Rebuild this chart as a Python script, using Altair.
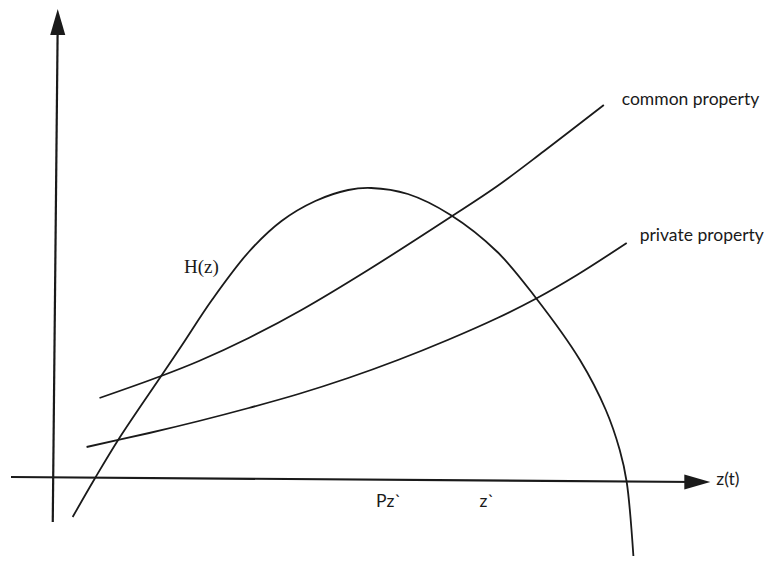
import altair as alt
import pandas as pd

# ---- data (z along horizontal axis, h along vertical axis) ----
h_z = [1.9, 4.1, 6.6, 10.8, 12.9, 15.9, 19.6, 22.9, 26.3, 29.6, 31.9,
       35.6, 39.9, 44.6, 48.4, 52.9, 55.5, 56.9, 57.6, 58.3]
h_val = [-3.7, 0.1, 4.2, 10.4, 13.5, 18.0, 22.8, 25.9, 27.9, 29.0, 29.2,
         28.6, 26.5, 22.8, 18.3, 12.0, 7.0, 3.0, -0.2, -8.0]

common_z = [4.6, 10.8, 14.6, 19.6, 24.9, 31.6, 39.9, 44.6, 49.3, 55.3]
common_val = [8.2, 10.4, 11.9, 14.2, 17.0, 21.0, 26.3, 29.4, 32.9, 37.5]

private_z = [3.3, 9.6, 14.6, 19.6, 24.6, 29.6, 34.6, 39.6, 44.6, 48.6, 52.6, 57.6]
private_val = [3.3, 4.7, 5.9, 7.2, 8.6, 10.2, 12.0, 14.0, 16.2, 18.2, 20.5, 23.7]

# axis lines (endpoints) and arrowheads
vaxis_z = [-0.1, 0.4]
vaxis_h = [-4.2, 46.0]
haxis_z = [-4.3, 64.6]
haxis_h = [0.3, -0.2]
varrow = (0.4, 45.8)
harrow = (64.7, -0.2)

label_text = ["common property", "private property", "z(t)", "Pz`", "z`"]
label_z = [57.1, 58.9, 66.6, 32.4, 42.8]
label_h = [38.0, 24.4, 0.0, -2.2, -2.2]

hz_label = "H(z)"
hz_pos = (13.1, 21.3)

Z_DOMAIN = [-4.6, 71.0]
H_DOMAIN = [-7.6, 47.2]

xs = alt.Scale(domain=Z_DOMAIN, nice=False, zero=False)
ys = alt.Scale(domain=H_DOMAIN, nice=False, zero=False)

INK = "#1a1a1a"


def curve(zs, hs, interp="catmull-rom", width=1.8):
    df = pd.DataFrame({"z": zs, "h": hs, "o": range(len(zs))})
    return alt.Chart(df).mark_line(
        color=INK, strokeWidth=width, interpolate=interp, clip=True
    ).encode(
        x=alt.X("z:Q", scale=xs, axis=None),
        y=alt.Y("h:Q", scale=ys, axis=None),
        order="o:Q",
    )


h_curve = curve(h_z, h_val)
common_curve = curve(common_z, common_val)
private_curve = curve(private_z, private_val)
v_axis = curve(vaxis_z, vaxis_h, interp="linear", width=2.2)
h_axis = curve(haxis_z, haxis_h, interp="linear", width=2.2)

arrow_up = alt.Chart(pd.DataFrame({"z": [varrow[0]], "h": [varrow[1]]})).mark_point(
    shape="M0,-1L0.58,1L-0.58,1Z", filled=True, color=INK, opacity=1, size=676, strokeWidth=0
).encode(x=alt.X("z:Q", scale=xs, axis=None), y=alt.Y("h:Q", scale=ys, axis=None))

arrow_right = alt.Chart(pd.DataFrame({"z": [harrow[0]], "h": [harrow[1]]})).mark_point(
    shape="M1,0L-1,-0.58L-1,0.58Z", filled=True, color=INK, opacity=1, size=676, strokeWidth=0
).encode(x=alt.X("z:Q", scale=xs, axis=None), y=alt.Y("h:Q", scale=ys, axis=None))

labels = alt.Chart(pd.DataFrame({"t": label_text, "z": label_z, "h": label_h})).mark_text(
    align="left", baseline="middle", font="Lato", fontSize=17.5, color=INK
).encode(
    x=alt.X("z:Q", scale=xs, axis=None),
    y=alt.Y("h:Q", scale=ys, axis=None),
    text="t:N",
)

hz_text = alt.Chart(pd.DataFrame({"t": [hz_label], "z": [hz_pos[0]], "h": [hz_pos[1]]})).mark_text(
    align="left", baseline="middle", font="Liberation Serif", fontSize=19, color=INK
).encode(
    x=alt.X("z:Q", scale=xs, axis=None),
    y=alt.Y("h:Q", scale=ys, axis=None),
    text="t:N",
)

chart = alt.layer(
    v_axis, h_axis, arrow_up, arrow_right, h_curve, common_curve, private_curve, labels, hz_text
).properties(
    width=756,
    height=548,
    padding=0,
    autosize=alt.AutoSizeParams(type="fit", contains="padding"),
    background="white",
).configure_view(stroke=None)

chart.save("out.html", embed_options={"renderer": "svg", "actions": False})
